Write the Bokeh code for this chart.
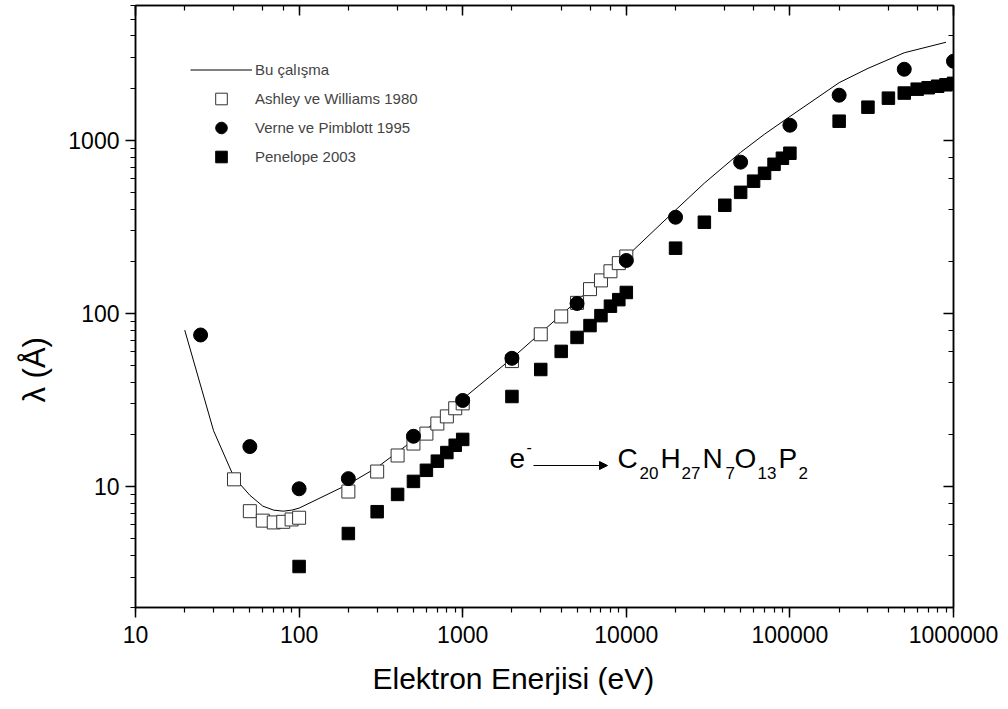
import math
from bokeh.plotting import figure
from bokeh.models import (LogAxis, LogTicker, Range1d, Legend, LegendItem, Label,
                          Arrow, NormalHead, PrintfTickFormatter, Title)
from bokeh.embed import file_html
from bokeh.resources import INLINE

FONT = "Liberation Sans"

# ---- data ----
line_x = [20, 30, 40, 50, 60, 70, 80, 90, 100, 200, 300, 500, 1000, 2000, 5000,
          10000, 20000, 30000, 50000, 70000, 100000, 200000, 300000, 500000, 900000]
line_y = [80, 21, 11.3, 8.9, 7.7, 7.3, 7.2, 7.3, 7.5, 10.3, 12.9, 18.5, 32, 55, 118,
          212, 395, 565, 851, 1084, 1371, 2150, 2600, 3200, 3680]

ash_x = [40, 50, 60, 70, 80, 90, 100, 200, 300, 400, 500, 600, 700, 800, 900, 1000,
         2000, 3000, 4000, 5000, 6000, 7000, 8000, 9000, 10000]
ash_y = [11.0, 7.2, 6.35, 6.2, 6.25, 6.45, 6.6, 9.35, 12.2, 15.1, 17.7, 20.2, 23.1,
         25.4, 28.3, 30.2, 53, 75.7, 96, 115, 138, 155, 175, 195, 213]

ver_x = [25, 50, 100, 200, 500, 1000, 2000, 5000, 10000, 20000, 50000, 100000,
         200000, 500000, 1000000]
ver_y = [75, 17, 9.7, 11.1, 19.5, 31.4, 55, 114, 202, 359, 747, 1221, 1820, 2570, 2860]

pen_x = [100, 200, 300, 400, 500, 600, 700, 800, 900, 1000, 2000, 3000, 4000, 5000,
         6000, 7000, 8000, 9000, 10000, 20000, 30000, 40000, 50000, 60000, 70000,
         80000, 90000, 100000, 200000, 300000, 400000, 500000, 600000, 700000,
         800000, 900000, 1000000]
pen_y = [3.45, 5.35, 7.15, 9.0, 10.7, 12.4, 14.0, 15.7, 17.3, 18.7, 33.1, 47.4, 60.3,
         72.6, 85, 97, 110, 120, 132, 238, 336, 421, 500, 580, 644, 726, 787, 841,
         1288, 1552, 1750, 1872, 1972, 2010, 2050, 2090, 2130]

legend_labels = ["Bu çalışma", "Ashley ve Williams 1980", "Verne ve Pimblott 1995", "Penelope 2003"]
x_title = "Elektron Enerjisi (eV)"
y_title = "λ (Å)"

p = figure(width=1008, height=709, x_axis_type="log", y_axis_type="log",
           x_range=Range1d(10, 1e6), y_range=Range1d(2, 6000),
           output_backend="svg", toolbar_location=None,
           min_border_left=135, min_border_right=55, min_border_top=5,
           min_border_bottom=102, background_fill_color="white",
           border_fill_color="white")
p.grid.visible = False
p.outline_line_color = "black"
p.outline_line_width = 1.5

fmt = PrintfTickFormatter(format="%d")
for ax in (p.xaxis[0], p.yaxis[0]):
    ax.formatter = fmt
    ax.axis_line_width = 1.5
    ax.major_tick_line_width = 1.5
    ax.minor_tick_line_width = 1.2
    ax.major_tick_out = 10
    ax.major_tick_in = 0
    ax.minor_tick_out = 5
    ax.minor_tick_in = 0
    ax.major_label_text_font = FONT
    ax.major_label_text_font_size = "23px"
    ax.major_label_text_color = "black"
    ax.axis_line_color = "black"
    ax.major_tick_line_color = "black"
    ax.minor_tick_line_color = "black"
p.xaxis[0].major_label_standoff = 8
p.yaxis[0].major_label_standoff = 6

for loc in ("above", "right"):
    ax = LogAxis(ticker=LogTicker(), major_label_text_font_size="1px",
                 major_label_text_alpha=0, major_label_standoff=0,
                 axis_line_width=1.5,
                 major_tick_line_width=1.5, minor_tick_line_width=1.2,
                 major_tick_in=10, major_tick_out=0, minor_tick_in=5, minor_tick_out=0)
    p.add_layout(ax, loc)

# axis titles as panel titles (allow off-centre placement)
p.add_layout(Title(text=x_title, text_font=FONT, text_font_size="30px",
                   text_font_style="normal", text_color="black", align="left",
                   offset=237, standoff=29), "below")
p.add_layout(Title(text=y_title, text_font=FONT, text_font_size="31px",
                   text_font_style="normal", text_color="black", align="left",
                   offset=205, standoff=27), "left")

r_line = p.line(line_x, line_y, line_color="black", line_width=1)
r_ash = p.scatter(ash_x, ash_y, marker="square", size=13, fill_color="white",
                  line_color="#333333", line_width=1)
r_ver = p.scatter(ver_x, ver_y, marker="circle", size=14, fill_color="black",
                  line_color="black")
r_pen = p.scatter(pen_x, pen_y, marker="square", size=12.5, fill_color="black",
                  line_color="black")

legend = Legend(items=[LegendItem(label=legend_labels[0], renderers=[r_line]),
                       LegendItem(label=legend_labels[1], renderers=[r_ash]),
                       LegendItem(label=legend_labels[2], renderers=[r_ver]),
                       LegendItem(label=legend_labels[3], renderers=[r_pen])],
                location=(55, 436), glyph_width=62, glyph_height=29, spacing=0,
                padding=0, margin=0, label_standoff=3, label_text_font=FONT,
                label_text_font_size="15px", background_fill_alpha=0,
                border_line_alpha=0)
p.add_layout(legend)

def lab(text, x, y, size, **kw):
    p.add_layout(Label(text=text, x=x, y=y, x_units="screen", y_units="screen",
                       text_font=FONT, text_font_size=size, text_color="black",
                       text_baseline="alphabetic", **kw))

# reaction annotation
lab("e", 374, 149, "28px")
lab("-", 391, 161, "16px")
p.add_layout(Arrow(x_start=398, y_start=142, x_end=472, y_end=142,
                   start_units="screen", end_units="screen", line_width=1,
                   end=NormalHead(size=8, fill_color="black", line_color="black")))
for t, x in (("C", 482), ("H", 525), ("N", 567), ("O", 599), ("P", 643)):
    lab(t, x, 149, "28px")
for t, x in (("20", 504), ("27", 546), ("7", 590), ("13", 622), ("2", 663)):
    lab(t, x, 135, "17px")

open("out.html", "w").write(file_html(p, INLINE))
